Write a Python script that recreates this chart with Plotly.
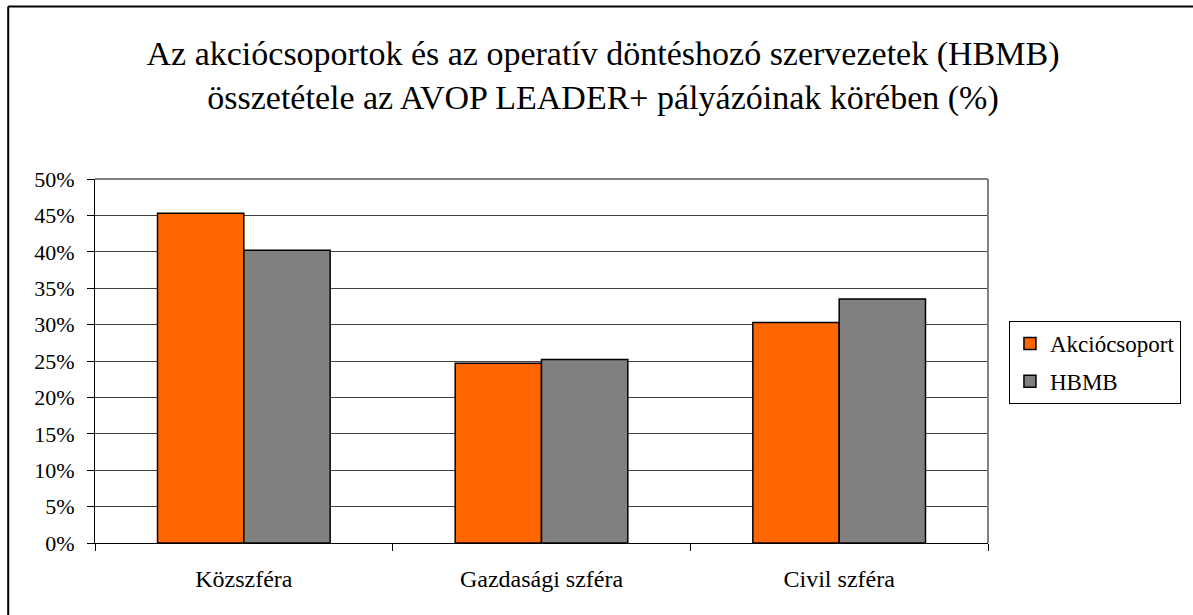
import plotly.graph_objects as go

categories = ["Közszféra", "Gazdasági szféra", "Civil szféra"]
akcio = [45.3, 24.7, 30.3]
hbmb = [40.2, 25.2, 33.5]
y_ticks = [0, 5, 10, 15, 20, 25, 30, 35, 40, 45, 50]
y_labels = [f"{v}%" for v in y_ticks]

FONT = "Liberation Serif"

fig = go.Figure()
fig.add_trace(go.Bar(name="Akciócsoport", x=categories, y=akcio, legendgroup="a",
                     marker=dict(color="#FF6600", line=dict(color="#000000", width=1.5))))
fig.add_trace(go.Bar(name="HBMB", x=categories, y=hbmb, legendgroup="b",
                     marker=dict(color="#808080", line=dict(color="#000000", width=1.5))))

L, R, T, B = 95, 203, 179, 72
W, H = 1193, 615
pw = W - L - R
ph = H - T - B

def px_x(p):
    return (p - L) / pw

def px_y(p):
    return (H - B - p) / ph

fig.update_layout(
    width=W, height=H,
    margin=dict(l=L, r=R, t=T, b=B),
    paper_bgcolor="white", plot_bgcolor="white",
    barmode="group", bargap=0.42, bargroupgap=0,
    font=dict(family=FONT, color="#000000", size=18),
    title=dict(text="Az akciócsoportok és az operatív döntéshozó szervezetek (HBMB)<br>összetétele az AVOP LEADER+ pályázóinak körében (%)",
               x=603 / W, xref="container", xanchor="center", y=1 - 65 / H, yanchor="top",
               font=dict(family=FONT, size=34, color="#000000")),
    legend=dict(x=px_x(1011), y=px_y(321), xanchor="left", yanchor="top",
                bordercolor="#000000", borderwidth=1, bgcolor="white",
                font=dict(family=FONT, size=23), tracegroupgap=5,
                itemwidth=30),
    xaxis=dict(showline=True, linecolor="#000000", linewidth=1,
               ticks="outside", tickson="boundaries", ticklen=7, tickcolor="#000000",
               tickfont=dict(family=FONT, size=24), ticklabelstandoff=14,
               showgrid=False, mirror=False),
    yaxis=dict(range=[0, 50], tickvals=y_ticks, ticktext=y_labels,
               showline=True, linecolor="#000000", linewidth=1,
               ticks="outside", ticklen=7, tickcolor="#000000",
               showgrid=True, gridcolor="#404040", gridwidth=1,
               tickfont=dict(family=FONT, size=22), ticklabelstandoff=8,
               zeroline=False),
    shapes=[
        dict(type="line", xref="paper", yref="paper", x0=1, x1=1, y0=0, y1=1,
             line=dict(color="#808080", width=2)),
        dict(type="line", xref="paper", yref="paper", x0=0, x1=1, y0=1, y1=1,
             line=dict(color="#808080", width=2)),
        dict(type="line", xref="paper", yref="paper", x0=px_x(8), x1=px_x(1200),
             y0=px_y(6.5), y1=px_y(6.5), line=dict(color="#000000", width=2)),
        dict(type="line", xref="paper", yref="paper", x0=px_x(8), x1=px_x(8),
             y0=px_y(6.5), y1=px_y(620), line=dict(color="#000000", width=2)),
    ],
)

fig.write_html("out.html", config={"displayModeBar": False},
               post_script="document.body.style.margin='0';document.body.style.overflow='hidden';")
